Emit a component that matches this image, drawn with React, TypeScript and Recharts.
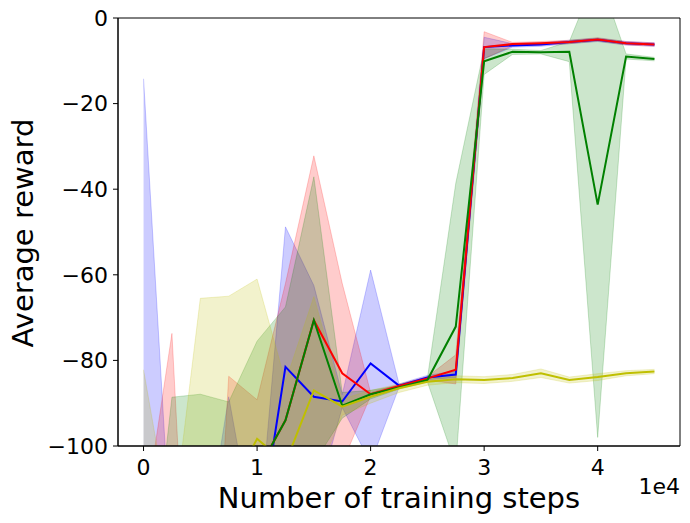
import { ComposedChart, Line, Area, XAxis, YAxis, Label, ReferenceArea } from "recharts";

const steps = [0, 2500, 5000, 7500, 10000, 12500, 15000, 17500, 20000, 22500, 25000, 27500, 30000, 32500, 35000, 37500, 40000, 42500, 45000];

const blueMean = [-150, -150, -150, -150, -124, -81.5, -88.5, -89.6, -80.7, -85.9, -84, -83.3, -6.8, -6.4, -6.2, -5.6, -5.1, -5.9, -6.2];
const blueLow = [-160, -160, -160, -160, -180, -120, -115, -91, -104, -86.3, -84.5, -84, -9.5, -6.8, -6.6, -6.0, -5.5, -6.3, -6.6];
const blueHigh = [-14.2, -127, -130, -88.5, -125, -48.8, -62.5, -88, -58.9, -85.5, -83.5, -82.5, -4.5, -6.0, -5.8, -5.2, -4.7, -5.5, -5.8];

const redMean = [-150, -150, -150, -150, -106, -94, -70.6, -83, -87.9, -86, -84.2, -82.2, -6.8, -6.1, -5.9, -5.6, -5.0, -5.9, -6.2];
const redLow = [-160, -160, -210, -160, -130, -115, -110, -104, -88.3, -86.4, -84.6, -85.5, -9.5, -6.5, -6.3, -6.0, -5.4, -6.3, -6.6];
const redHigh = [-118, -73.7, -200, -83.7, -89.2, -62, -32.2, -62, -87.5, -85.6, -83.8, -78.7, -3.2, -5.7, -5.5, -5.2, -4.6, -5.5, -5.8];

const greenMean = [-150, -150, -150, -150, -106, -94, -70.6, -90.6, -87.9, -86.3, -84.6, -72.1, -10.1, -7.9, -8.0, -7.9, -43.6, -9.0, -9.6];
const greenLow = [-160, -160, -160, -160, -140, -120, -104, -93.5, -89, -86.7, -85, -104.5, -13.2, -8.5, -8.4, -10.2, -98, -9.6, -10];
const greenHigh = [-148, -88.6, -87.9, -89.7, -75.5, -67.5, -37.1, -87.5, -87, -85.9, -84.2, -38.6, -7.2, -7.3, -7.6, -5.5, 10.8, -8.4, -9.2];

const yellowMean = [-150, -150, -150, -111, -98.3, -104, -87, -90.8, -88.5, -86.5, -85, -84.4, -84.6, -84.1, -83, -84.6, -83.9, -83, -82.6];
const yellowLow = [-160, -160, -160, -160, -140, -125, -109, -92.8, -90, -87.5, -85.8, -85.2, -85.4, -84.9, -84, -85.3, -84.7, -83.6, -83.1];
const yellowHigh = [-82.2, -120, -65.5, -65, -61, -85, -65.1, -89, -87, -85.5, -84.2, -83.6, -83.8, -83.3, -82, -83.9, -83.1, -82.4, -82.1];

const xTicks = [0, 10000, 20000, 30000, 40000];
const yTicks = [0, -20, -40, -60, -80, -100];

const series = [
  { key: "blue", color: "#0000ff" },
  { key: "red", color: "#ff0000" },
  { key: "green", color: "#008000" },
  { key: "yellow", color: "#bfbf00" },
];

const data = steps.map((s, i) => ({
  step: s,
  blue: blueMean[i],
  blueBand: [blueLow[i], blueHigh[i]],
  red: redMean[i],
  redBand: [redLow[i], redHigh[i]],
  green: greenMean[i],
  greenBand: [greenLow[i], greenHigh[i]],
  yellow: yellowMean[i],
  yellowBand: [yellowLow[i], yellowHigh[i]],
}));

const font = "DejaVu Sans";
const tickStyle = { fill: "#000", fontSize: 22, fontFamily: font };

export default function App() {
  return (
    <div style={{ position: "absolute", left: 0, top: 0, width: 690, height: 523, background: "#fff" }}>
      <ComposedChart width={690} height={523} data={data} margin={{ top: 18, right: 10, left: 0, bottom: 0 }}>
        <XAxis
          dataKey="step"
          type="number"
          domain={[-2250, 47250]}
          ticks={xTicks}
          allowDataOverflow
          tickFormatter={(v) => String(v / 10000)}
          tick={tickStyle}
          tickSize={5}
          tickMargin={8}
          height={77}
          stroke="#000"
          tickLine={{ stroke: "#000" }}
        >
          <Label
            content={() => (
              <text x={399} y={508} textAnchor="middle" fontSize={29} fontFamily={font} fill="#000">
                Number of training steps
              </text>
            )}
          />
        </XAxis>
        <YAxis
          type="number"
          domain={[-100, 0]}
          ticks={yTicks}
          allowDataOverflow
          tickFormatter={(v) => String(v).replace("-", "\u2212")}
          tick={tickStyle}
          tickSize={5}
          tickMargin={5}
          width={118}
          stroke="#000"
          tickLine={{ stroke: "#000" }}
        >
          <Label
            content={() => (
              <text x={33} y={233} textAnchor="middle" fontSize={29} fontFamily={font} fill="#000" transform="rotate(-90, 33, 233)">
                Average reward
              </text>
            )}
          />
        </YAxis>
        {series.flatMap((s) => [
          <Line
            key={s.key + "line"}
            type="linear"
            dataKey={s.key}
            stroke={s.color}
            strokeWidth={2}
            dot={false}
            activeDot={false}
            isAnimationActive={false}
          />,
          <Area
            key={s.key + "band"}
            type="linear"
            dataKey={s.key + "Band"}
            stroke={s.color}
            strokeOpacity={0.2}
            strokeWidth={1}
            fill={s.color}
            fillOpacity={0.2}
            dot={false}
            activeDot={false}
            isAnimationActive={false}
          />,
        ])}
        <ReferenceArea x1={-2250} x2={47250} y1={-100} y2={0} fill="none" stroke="#000" strokeWidth={1} ifOverflow="visible" />
      </ComposedChart>
      <div style={{ position: "absolute", right: 10, top: 474, fontSize: 22, fontFamily: font, color: "#000", lineHeight: "26px" }}>
        1e4
      </div>
    </div>
  );
}
